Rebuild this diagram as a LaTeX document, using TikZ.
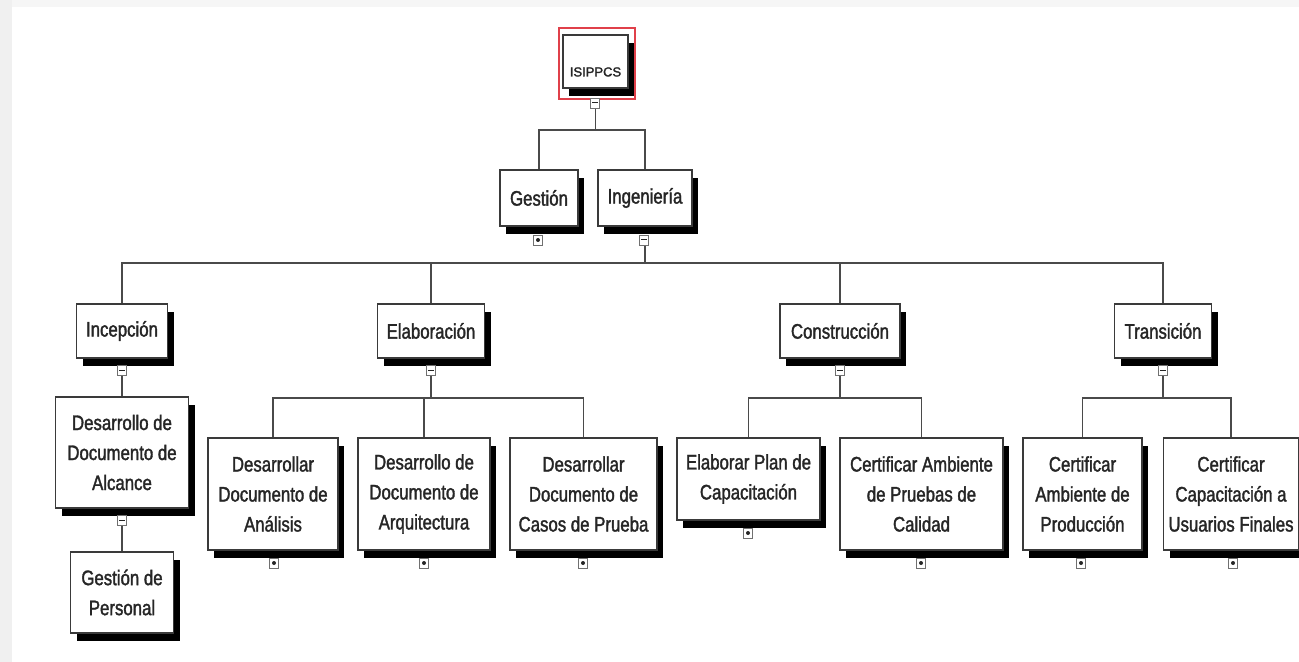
\documentclass[tikz,border=0pt]{standalone}
\usepackage{fontspec}
\setmainfont[FakeStretch=0.8,FakeBold=1.6]{Liberation Sans}
\newfontfamily\rootfnt[FakeBold=2]{Liberation Sans}
\usetikzlibrary{shadows}
\definecolor{boxline}{HTML}{3A3A3A}
\definecolor{connc}{HTML}{4A4A4A}
\definecolor{textc}{HTML}{262626}
\definecolor{selred}{HTML}{E0404A}
\definecolor{bgstrip}{HTML}{F0F0F0}
\definecolor{mkline}{HTML}{707070}
\tikzset{
  box/.style={draw=boxline, line width=0.75pt, fill=white, align=center, inner sep=0pt,
    font=\fontsize{10.5}{15}\selectfont, text=textc,
    drop shadow={shadow xshift=3.2pt, shadow yshift=-3.8pt, fill=black, opacity=1}},
  mkopen/.style={draw=mkline, fill=white, line width=0.45pt, minimum width=4.5pt, minimum height=5pt, inner sep=0pt,
    path picture={\draw[line width=0.5pt, textc] ([xshift=-1.5pt]path picture bounding box.center) -- ([xshift=1.5pt]path picture bounding box.center);}},
  mkleaf/.style={draw=mkline, fill=white, line width=0.45pt, minimum width=4.5pt, minimum height=5pt, inner sep=0pt,
    path picture={\fill[textc] (path picture bounding box.center) circle (1pt);}},
  conn/.style={draw=connc, line width=0.75pt},
}
\begin{document}
\begin{tikzpicture}[x=0.5pt, y=-0.5pt]
\useasboundingbox (0,0) rectangle (1299,662);
\fill[white] (0,0) rectangle (1299,662);
\fill[bgstrip] (0,0) rectangle (12,662);
\fill[bgstrip!60!white] (12,0) rectangle (1299,7);

% bus coordinates
\coordinate (b0) at (0,130);
\coordinate (b1) at (0,263);
\coordinate (b2) at (0,398);

% root
\node[draw=selred, line width=0.6pt, minimum width=38pt, minimum height=35.5pt, inner sep=0pt] (sel) at (597,63.5) {};
\node[box, minimum width=32.5pt, minimum height=26.5pt, font=\rootfnt\fontsize{6.5}{8}\selectfont] (root) at (595.5,61.5) {\mbox{}\\[7pt]ISIPPCS};

% level 1
\node[box, minimum width=39pt, minimum height=28pt] (ges) at (539,198) {Gestión};
\node[box, minimum width=47pt, minimum height=28pt] (ing) at (645,198) {Ingeniería};

% level 2
\node[box, minimum width=45.5pt, minimum height=27pt] (inc) at (122,331) {Incepción};
\node[box, minimum width=53.5pt, minimum height=27pt] (ela) at (431,331) {Elaboración};
\node[box, minimum width=60pt, minimum height=27pt] (con) at (840,331) {Construcción};
\node[box, minimum width=48.5pt, minimum height=27pt] (tra) at (1163,331) {Transición};

% level 3
\node[box, minimum width=66.5pt, minimum height=55.5pt] (alc) at (122,452.5) {Desarrollo de\\Documento de\\Alcance};
\node[box, minimum width=51.5pt, minimum height=40.5pt] (per) at (122,592.5) {Gestión de\\Personal};

\node[box, minimum width=65pt, minimum height=56pt] (ana) at (273,494) {Desarrollar\\Documento de\\Análisis};
\node[box, minimum width=66pt, minimum height=56pt] (arq) at (424,494) {Desarrollo de\\Documento de\\Arquitectura};
\node[box, minimum width=73.5pt, minimum height=56pt] (cas) at (583.5,494) {Desarrollar\\Documento de\\Casos de Prueba};

\node[box, minimum width=71.5pt, minimum height=41pt] (pla) at (748.5,479) {Elaborar Plan de\\Capacitación};
\node[box, minimum width=81.5pt, minimum height=56pt] (pru) at (921.5,494) {Certificar Ambiente\\de Pruebas de\\Calidad};

\node[box, minimum width=59.5pt, minimum height=56pt] (prod) at (1082.5,494) {Certificar\\Ambiente de\\Producción};
\node[box, minimum width=67.5pt, minimum height=56pt] (usu) at (1231,494) {Certificar\\Capacitación a\\Usuarios Finales};

% connectors
\draw[conn] (root.south |- 0,106) -- (root.south |- b0);
\draw[conn] (ges.north) |- (ing.north |- b0) -- (ing.north);
\draw[conn] (ing.south |- 0,244) -- (ing.south |- b1);
\draw[conn] (inc.north) |- (tra.north |- b1) -- (tra.north);
\draw[conn] (ela.north) -- (ela.north |- b1);
\draw[conn] (con.north) -- (con.north |- b1);
\draw[conn] (inc.south |- 0,375) -- (alc.north);
\draw[conn] (alc.south |- 0,524) -- (per.north);
\draw[conn] (ela.south |- 0,375) -- (ela.south |- b2);
\draw[conn] (ana.north) |- (cas.north |- b2) -- (cas.north);
\draw[conn] (arq.north) -- (arq.north |- b2);
\draw[conn] (con.south |- 0,375) -- (con.south |- b2);
\draw[conn] (pla.north) |- (pru.north |- b2) -- (pru.north);
\draw[conn] (tra.south |- 0,375) -- (tra.south |- b2);
\draw[conn] (prod.north) |- (usu.north |- b2) -- (usu.north);

% markers
\node[mkopen] (mroot) at (595,103) {};
\node[mkleaf] (mges) at (538,240) {};
\node[mkopen] (ming) at (644,240) {};
\node[mkopen] (minc) at (122,370) {};
\node[mkopen] (mela) at (431,370) {};
\node[mkopen] (mcon) at (840,370) {};
\node[mkopen] (mtra) at (1163,370) {};
\node[mkopen] (malc) at (122,520) {};
\node[mkleaf] (mana) at (274,563) {};
\node[mkleaf] (marq) at (424,563) {};
\node[mkleaf] (mcas) at (583,563) {};
\node[mkleaf] (mpla) at (748,533) {};
\node[mkleaf] (mpru) at (921,563) {};
\node[mkleaf] (mprod) at (1081,563) {};
\node[mkleaf] (musu) at (1233,563) {};
\end{tikzpicture}
\end{document}
